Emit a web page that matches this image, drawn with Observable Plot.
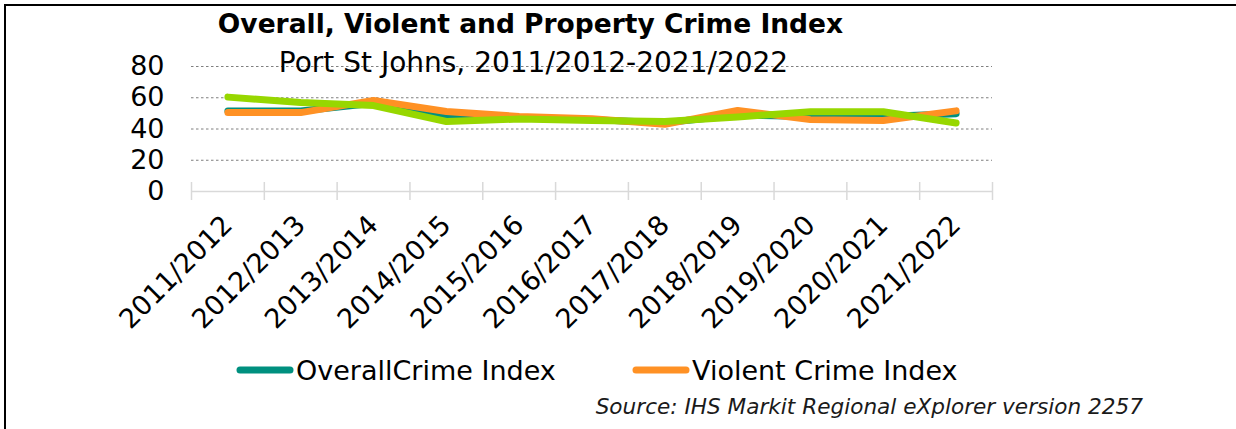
<!DOCTYPE html>
<html>
<head>
<meta charset="utf-8">
<script src="https://cdn.jsdelivr.net/npm/d3@7"></script>
<script src="https://cdn.jsdelivr.net/npm/@observablehq/plot@0.6"></script>
<style>
  html, body { margin: 0; padding: 0; background: #fff; }
  #wrap { position: relative; width: 1236px; height: 429px; overflow: hidden; font-family: "DejaVu Sans", Verdana, sans-serif; color: #000; }
  #frame { position: absolute; left: 4px; top: 4px; width: 1250px; height: 440px; border: 2px solid #000; box-sizing: border-box; }
  #chart { position: absolute; left: 0; top: 0; }
  .txt { position: absolute; white-space: nowrap; }
  #title { left: 0; width: 1061px; text-align: center; top: 8px; font-weight: bold; font-size: 26.5px; }
  #subtitle { left: 0; width: 1067px; text-align: center; top: 46px; font-size: 28px; }
  #legend { position: absolute; left: 0; top: 352px; width: 1236px; height: 36px; }
  .item { position: absolute; top: 0; height: 36px; display: flex; align-items: center; font-size: 27px; }
  .item svg { margin-right: 2px; }
  #source { right: 93px; top: 394px; font-style: italic; font-size: 21.6px; color: #1a1a1a; }
</style>
</head>
<body>
<div id="wrap">
  <div id="chart"></div>
  <div id="frame"></div>
  <div class="txt" id="title"></div>
  <div class="txt" id="subtitle"></div>
  <div id="legend"></div>
  <div class="txt" id="source"></div>
</div>
<script>
const titleText = "Overall, Violent and Property Crime Index";
const subtitleText = "Port St Johns, 2011/2012-2021/2022";
const sourceText = "Source: IHS Markit Regional eXplorer version 2257";

const categories = ["2011/2012","2012/2013","2013/2014","2014/2015","2015/2016","2016/2017","2017/2018","2018/2019","2019/2020","2020/2021","2021/2022"];
const overall  = [51.5, 51.5, 56.5, 47.5, 47.0, 46.0, 44.0, 49.0, 48.0, 48.0, 49.8];
const violent  = [50.5, 50.5, 58.3, 51.2, 48.0, 46.6, 43.0, 51.9, 46.0, 45.5, 51.6];
const property = [60.4, 56.9, 55.0, 44.8, 46.4, 45.5, 44.8, 47.7, 51.0, 51.0, 43.8];
const yTicks = [0, 20, 40, 60, 80];

const seriesNames = ["OverallCrime Index", "Violent Crime Index", "Property Crime Index"];
const seriesColors = ["#00907F", "#FF9124", "#97D700"];
const seriesValues = [overall, violent, property];
const legendShown = [0, 1];

document.getElementById("title").textContent = titleText;
document.getElementById("subtitle").textContent = subtitleText;
document.getElementById("source").textContent = sourceText;

const rows = [];
seriesValues.forEach((vals, s) => vals.forEach((v, i) => rows.push({series: seriesNames[s], pos: i + 0.5, value: v})));
const centers = categories.map((c, i) => i + 0.5);
const bounds = d3.range(categories.length + 1);

const W = 1236, H = 429;
const chart = Plot.plot({
  width: W,
  height: H,
  marginLeft: 191,
  marginRight: 244,
  marginTop: 66,
  marginBottom: 238,
  style: {fontFamily: "DejaVu Sans, Verdana, sans-serif", fontSize: "27px", color: "#000", background: "transparent"},
  x: {type: "linear", domain: [0, categories.length], label: null},
  y: {domain: [0, 80], label: null},
  color: {domain: seriesNames, range: seriesColors},
  marks: [
    Plot.gridY(yTicks.filter(d => d > 0), {stroke: "#7f7f7f", strokeOpacity: 1, strokeDasharray: "2.5,2.5", strokeWidth: 1}),
    Plot.ruleY([0], {stroke: "#d9d9d9", strokeWidth: 1.5}),
    Plot.ruleX(bounds, {x: d => d, y1: 0, y2: 0, insetTop: -9, insetBottom: -9, stroke: "#d9d9d9", strokeWidth: 1.5}),
    Plot.axisY({ticks: yTicks, tickSize: 0, tickPadding: 27, fontSize: 27, fill: "#000", label: null}),
    Plot.axisX({ticks: centers, tickFormat: d => categories[Math.floor(d)], tickRotate: -45, tickSize: 0, tickPadding: 29, fontSize: 27, fill: "#000", label: null}),
    Plot.lineY(rows, {x: "pos", y: "value", z: "series", stroke: "series", strokeWidth: 7, strokeLinecap: "round", strokeLinejoin: "round"})
  ]
});
document.getElementById("chart").appendChild(chart);

const legendPos = [236, 632];
const legend = document.getElementById("legend");
legendShown.forEach((s, k) => {
  const item = document.createElement("div");
  item.className = "item";
  item.style.left = legendPos[k] + "px";
  item.innerHTML = `<svg width="58" height="10"><line x1="4" y1="5" x2="54" y2="5" stroke="${seriesColors[s]}" stroke-width="7" stroke-linecap="round"/></svg>`;
  const span = document.createElement("span");
  span.textContent = seriesNames[s];
  item.appendChild(span);
  legend.appendChild(item);
});
</script>
</body>
</html>
